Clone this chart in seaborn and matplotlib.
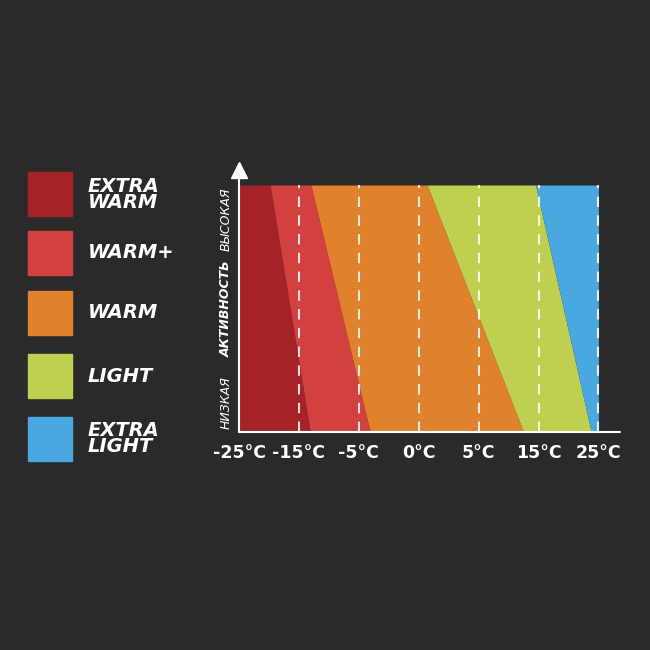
import numpy as np
import pandas as pd
import matplotlib
matplotlib.use("Agg")
import matplotlib.pyplot as plt
import seaborn as sns

sns.set_theme(style="dark")
plt.rcParams['font.family'] = ['DejaVu Sans']

# legend / series
names = ["EXTRA\nWARM", "WARM+", "WARM", "LIGHT", "EXTRA\nLIGHT"]
colors = ["#a52327", "#d34040", "#e0812c", "#bfcf4f", "#4aa8e0"]
tick_labels = ["-25°C", "-15°C", "-5°C", "0°C", "5°C", "15°C", "25°C"]
# boundaries between bands, in tick-index units: at low activity (bottom) and high (top)
bound_low = [0.0, 1.19, 2.19, 4.75, 5.88, 6.0]
bound_high = [0.0, 0.52, 1.20, 3.14, 4.95, 6.0]

bg = "#2a2a2a"
fig = plt.figure(figsize=(6.5, 6.5), dpi=100, facecolor=bg)
ax = fig.add_axes([239/650, 1-432/650, (620-239)/650, 247/650])
ax.set_facecolor(bg)

y = np.array([0, 1])
for i, c in enumerate(colors):
    ax.fill_betweenx(y, [bound_low[i], bound_high[i]], [bound_low[i+1], bound_high[i+1]],
                     color=c, linewidth=0)

grid = pd.DataFrame({"x": np.repeat(np.arange(1, 7), 2), "y": np.tile([0, 1], 6),
                     "g": np.repeat(np.arange(1, 7), 2)})
sns.lineplot(data=grid, x="x", y="y", units="g", estimator=None, ax=ax,
             color="white", alpha=0.85, linestyle=(0, (5, 4)), linewidth=1.5)

ax.set_xlim(0, 6.36)
ax.set_ylim(0, 1)
for s in ax.spines.values():
    s.set_visible(False)
ax.axhline(0, color="white", linewidth=1.5, clip_on=False)
ax.plot([0, 0], [0, 1.03], color="white", linewidth=1.5, clip_on=False)
ax.plot([0], [1.06], marker="^", color="white", markersize=11, clip_on=False)
ax.set_xticks(range(7))
ax.set_xticklabels(tick_labels, color="white", fontsize=12.5, fontweight="bold")
ax.tick_params(axis="x", colors="white", length=5, width=1.5, pad=4, labelcolor="white")
ax.set_yticks([])
ax.set_xlabel("")
ax.set_ylabel("")

ax.text(-0.22, 0.12, "НИЗКАЯ", rotation=90, color="white", fontsize=9, style="italic",
        ha="center", va="center")
ax.text(-0.22, 0.5, "АКТИВНОСТЬ", rotation=90, color="white", fontsize=9, style="italic",
        fontweight="bold", ha="center", va="center")
ax.text(-0.22, 0.86, "ВЫСОКАЯ", rotation=90, color="white", fontsize=9, style="italic",
        ha="center", va="center")

# legend
tops = [172, 231, 291, 354, 417]
for t, c, n in zip(tops, colors, names):
    fig.patches.append(plt.Rectangle((28/650, 1-(t+44)/650), 44/650, 44/650,
                                     transform=fig.transFigure, color=c))
    fig.text(88/650, 1-(t+22)/650, n, color="white", fontsize=14, fontweight="bold",
             style="italic", va="center", ha="left", linespacing=0.8)

fig.savefig("out.png", dpi=100, facecolor=bg)
